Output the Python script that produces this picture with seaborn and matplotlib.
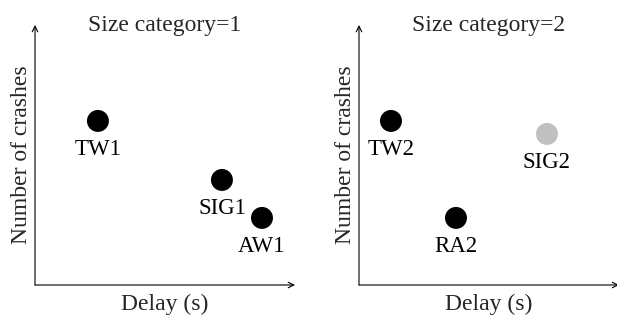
import pandas as pd
import matplotlib
matplotlib.use("Agg")
import matplotlib.pyplot as plt
import seaborn as sns

# values (arbitrary units, axes go 0..10)
panel1_labels = ["TW1", "SIG1", "AW1"]
panel1_delay = [2.42, 7.19, 8.73]
panel1_crashes = [6.31, 4.04, 2.58]
panel1_group = ["dark", "dark", "dark"]

panel2_labels = ["TW2", "SIG2", "RA2"]
panel2_delay = [1.23, 7.23, 3.73]
panel2_crashes = [6.31, 5.81, 2.58]
panel2_group = ["dark", "light", "dark"]

titles = ["Size category=1", "Size category=2"]

sns.set_style("white")
plt.rcParams["font.family"] = ["Liberation Serif", "DejaVu Serif"]

df1 = pd.DataFrame({"label": panel1_labels, "delay": panel1_delay,
                    "crashes": panel1_crashes, "group": panel1_group})
df2 = pd.DataFrame({"label": panel2_labels, "delay": panel2_delay,
                    "crashes": panel2_crashes, "group": panel2_group})

fig = plt.figure(figsize=(6.17, 3.15), dpi=100)
ax1 = fig.add_axes([35 / 617, 30 / 315, 260 / 617, 260 / 315])
ax2 = fig.add_axes([359 / 617, 30 / 315, 260 / 617, 260 / 315])

palette = {"dark": "black", "light": "#c0c0c0"}

for ax, df, title in zip([ax1, ax2], [df1, df2], titles):
    sns.scatterplot(data=df, x="delay", y="crashes", hue="group", palette=palette,
                    s=250, edgecolor="none", legend=False, ax=ax)
    for _, row in df.iterrows():
        ax.annotate(row["label"], (row["delay"], row["crashes"]),
                    xytext=(0, -13), textcoords="offset points",
                    ha="center", va="top", fontsize=16.5, color="black")
    ax.set_xlim(0, 10)
    ax.set_ylim(0, 10)
    ax.set_xticks([])
    ax.set_yticks([])
    for sp in ax.spines.values():
        sp.set_visible(False)
    # axis arrows
    ax.annotate("", xy=(1.0, 0), xytext=(0, 0), xycoords="axes fraction",
                arrowprops=dict(arrowstyle="->", lw=0.8, color="black",
                                shrinkA=0, shrinkB=0))
    ax.annotate("", xy=(0, 1.0), xytext=(0, 0), xycoords="axes fraction",
                arrowprops=dict(arrowstyle="->", lw=0.8, color="black",
                                shrinkA=0, shrinkB=0))
    ax.text(0.5, 1.0, title, transform=ax.transAxes, ha="center", va="center",
            fontsize=17)
    ax.set_xlabel("Delay (s)", fontsize=17, labelpad=6)
    ax.set_ylabel("Number of crashes", fontsize=17, labelpad=2)

fig.savefig("out.png", dpi=100)
